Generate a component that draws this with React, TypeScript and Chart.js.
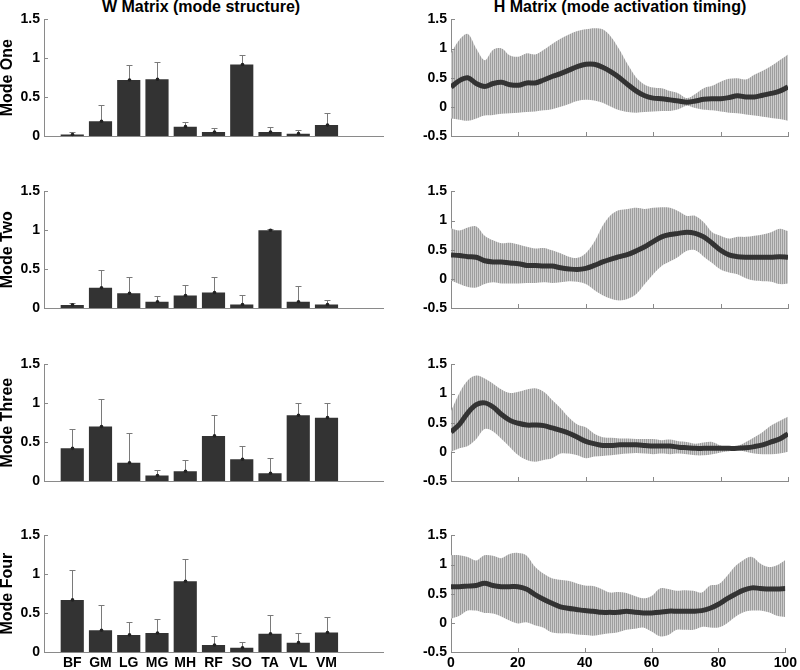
import React, { useEffect, useRef } from 'react';
import { Chart, registerables } from 'chart.js';
Chart.register(...registerables);

// ---------- data ----------
const muscles = ['BF', 'GM', 'LG', 'MG', 'MH', 'RF', 'SO', 'TA', 'VL', 'VM'];
const modeNames = ['Mode One', 'Mode Two', 'Mode Three', 'Mode Four'];

const wOne = [0.02, 0.19, 0.72, 0.73, 0.12, 0.05, 0.92, 0.05, 0.03, 0.14];
const wOneSd = [0.03, 0.21, 0.19, 0.22, 0.055, 0.05, 0.12, 0.07, 0.05, 0.16];
const wTwo = [0.04, 0.26, 0.19, 0.08, 0.16, 0.2, 0.045, 1.0, 0.08, 0.045];
const wTwoSd = [0.025, 0.23, 0.21, 0.08, 0.13, 0.2, 0.125, 0.01, 0.2, 0.055];
const wThree = [0.42, 0.7, 0.235, 0.07, 0.125, 0.58, 0.28, 0.1, 0.845, 0.815];
const wThreeSd = [0.25, 0.35, 0.385, 0.07, 0.145, 0.27, 0.17, 0.19, 0.155, 0.185];
const wFour = [0.67, 0.28, 0.22, 0.245, 0.91, 0.09, 0.055, 0.235, 0.12, 0.25];
const wFourSd = [0.39, 0.33, 0.17, 0.175, 0.28, 0.12, 0.075, 0.245, 0.12, 0.195];

const cyclePct = [0, 2.5, 5, 7.5, 10, 12.5, 15, 17.5, 20, 22.5, 25, 27.5, 30, 32.5, 35, 37.5, 40, 42.5, 45, 47.5, 50,
  52.5, 55, 57.5, 60, 62.5, 65, 67.5, 70, 72.5, 75, 77.5, 80, 82.5, 85, 87.5, 90, 92.5, 95, 97.5, 100];

const hOneMean = [0.34, 0.45, 0.5, 0.4, 0.35, 0.4, 0.42, 0.38, 0.37, 0.41, 0.41, 0.46, 0.52, 0.57, 0.63, 0.69, 0.73, 0.73, 0.68, 0.6, 0.5,
  0.38, 0.27, 0.19, 0.15, 0.14, 0.12, 0.1, 0.08, 0.1, 0.13, 0.14, 0.14, 0.16, 0.19, 0.17, 0.17, 0.2, 0.23, 0.27, 0.34];
const hOneUpper = [0.92, 1.15, 1.25, 1.0, 0.8, 0.98, 1.0, 0.88, 0.86, 0.92, 0.9, 0.98, 1.08, 1.17, 1.24, 1.3, 1.33, 1.35, 1.33, 1.2, 0.98,
  0.72, 0.5, 0.38, 0.33, 0.32, 0.27, 0.23, 0.15, 0.22, 0.32, 0.36, 0.43, 0.48, 0.49, 0.47, 0.55, 0.62, 0.7, 0.8, 0.9];
const hOneLower = [-0.2, -0.22, -0.24, -0.2, -0.15, -0.14, -0.12, -0.11, -0.1, -0.09, -0.08, -0.06, -0.04, 0, 0.05, 0.1, 0.12, 0.11, 0.07, 0, -0.06,
  -0.09, -0.1, -0.09, -0.08, -0.07, -0.07, -0.04, 0.02, -0.02, -0.05, -0.06, -0.08, -0.1, -0.11, -0.13, -0.15, -0.17, -0.19, -0.21, -0.24];

const hTwoMean = [0.41, 0.4, 0.38, 0.37, 0.31, 0.29, 0.29, 0.27, 0.26, 0.23, 0.23, 0.22, 0.22, 0.19, 0.17, 0.16, 0.18, 0.23, 0.29, 0.34, 0.38,
  0.42, 0.48, 0.55, 0.64, 0.72, 0.76, 0.78, 0.8, 0.78, 0.72, 0.61, 0.49, 0.41, 0.38, 0.37, 0.37, 0.37, 0.37, 0.38, 0.37];
const hTwoUpper = [0.87, 0.83, 0.88, 0.9, 0.74, 0.66, 0.61, 0.62, 0.59, 0.55, 0.52, 0.53, 0.49, 0.44, 0.38, 0.36, 0.44, 0.63, 0.91, 1.1, 1.18,
  1.2, 1.22, 1.2, 1.22, 1.23, 1.22, 1.16, 1.08, 1.08, 0.97, 0.8, 0.74, 0.69, 0.72, 0.72, 0.74, 0.76, 0.8, 0.86, 0.82];
const hTwoLower = [-0.03, -0.09, -0.14, -0.15, -0.09, -0.06, -0.08, -0.08, -0.08, -0.07, -0.07, -0.06, -0.07, -0.06, -0.04, -0.05, -0.09, -0.19, -0.28, -0.34, -0.37,
  -0.34, -0.26, -0.09, 0.08, 0.22, 0.3, 0.38, 0.48, 0.49, 0.38, 0.27, 0.16, 0.11, 0.08, 0.01, -0.03, -0.04, -0.05, -0.09, -0.08];

const hThreeMean = [0.34, 0.47, 0.67, 0.81, 0.84, 0.77, 0.64, 0.54, 0.49, 0.46, 0.46, 0.45, 0.41, 0.37, 0.32, 0.25, 0.18, 0.14, 0.11, 0.11, 0.12,
  0.12, 0.12, 0.11, 0.1, 0.1, 0.1, 0.08, 0.07, 0.06, 0.06, 0.06, 0.06, 0.06, 0.06, 0.07, 0.09, 0.12, 0.17, 0.22, 0.31];
const hThreeUpper = [0.7, 1.01, 1.23, 1.31, 1.26, 1.17, 1.07, 1.01, 1.03, 1.07, 1.09, 1.03, 0.89, 0.75, 0.59, 0.47, 0.42, 0.31, 0.25, 0.24, 0.23,
  0.23, 0.22, 0.22, 0.22, 0.2, 0.21, 0.18, 0.17, 0.14, 0.16, 0.17, 0.11, 0.08, 0.1, 0.17, 0.25, 0.34, 0.45, 0.53, 0.6];
const hThreeLower = [0, 0.06, 0.1, 0.22, 0.39, 0.35, 0.22, 0.08, -0.06, -0.14, -0.17, -0.14, -0.11, -0.03, -0.03, -0.06, -0.11, -0.08, -0.07, -0.06, -0.04,
  -0.03, -0.02, -0.03, -0.04, -0.03, -0.04, -0.03, -0.04, -0.06, -0.06, -0.04, -0.01, 0.01, 0.03, 0, -0.03, -0.04, -0.04, -0.03, 0];

const hFourMean = [0.62, 0.62, 0.63, 0.64, 0.68, 0.64, 0.62, 0.62, 0.62, 0.58, 0.49, 0.41, 0.34, 0.28, 0.25, 0.23, 0.21, 0.2, 0.18, 0.18, 0.18,
  0.2, 0.18, 0.17, 0.17, 0.18, 0.2, 0.2, 0.2, 0.2, 0.21, 0.25, 0.32, 0.41, 0.49, 0.56, 0.6, 0.59, 0.58, 0.58, 0.59];
const hFourUpper = [1.16, 1.16, 1.13, 1.07, 1.16, 1.15, 1.11, 1.18, 1.2, 1.16, 0.97, 0.85, 0.77, 0.74, 0.72, 0.68, 0.64, 0.63, 0.58, 0.52, 0.53,
  0.51, 0.46, 0.42, 0.46, 0.59, 0.58, 0.55, 0.56, 0.55, 0.52, 0.64, 0.66, 0.8, 0.97, 1.08, 1.13, 1.02, 0.96, 0.99, 1.08];
const hFourLower = [0.07, 0.12, 0.21, 0.21, 0.17, 0.16, 0.11, 0.04, -0.01, 0.01, -0.04, -0.08, -0.16, -0.18, -0.18, -0.2, -0.21, -0.22, -0.2, -0.18, -0.16,
  -0.12, -0.1, -0.08, -0.15, -0.23, -0.21, -0.12, -0.12, -0.12, -0.07, -0.08, -0.08, -0.01, 0.1, 0.18, 0.21, 0.21, 0.18, 0.12, 0.1];

const wValues = [wOne, wTwo, wThree, wFour];
const wSds = [wOneSd, wTwoSd, wThreeSd, wFourSd];
const hMeans = [hOneMean, hTwoMean, hThreeMean, hFourMean];
const hUppers = [hOneUpper, hTwoUpper, hThreeUpper, hFourUpper];
const hLowers = [hOneLower, hTwoLower, hThreeLower, hFourLower];

// ---------- style / layout ----------
const FONT = '"Liberation Sans", Arial, sans-serif';
const AXIS = '#8a8a8a';
const DARK = '#333333';
const ROW_TOPS = [17, 189, 362, 533];
const PLOT_H = 119;
const PAD_TOP = 10;
const X_AXIS_H = 18;

Chart.defaults.font.family = FONT;

const fmtTick = (v: any) => String(Number(v));

const errorBarPlugin = {
  id: 'errorBars',
  afterDatasetsDraw(chart: any, _args: any, opts: any) {
    const sd: number[] | undefined = opts && opts.sd;
    if (!sd) return;
    const { ctx } = chart;
    const meta = chart.getDatasetMeta(0);
    const ys = chart.scales.y;
    const data = chart.data.datasets[0].data as any[];
    ctx.save();
    meta.data.forEach((bar: any, i: number) => {
      const v = data[i].y;
      const x = Math.round(bar.x) + 0.5;
      const y0 = ys.getPixelForValue(v);
      const y1 = Math.round(ys.getPixelForValue(v + sd[i])) + 0.5;
      ctx.strokeStyle = '#7a7a7a';
      ctx.lineWidth = 1;
      ctx.beginPath();
      ctx.moveTo(x, y0);
      ctx.lineTo(x, y1);
      ctx.moveTo(x - 3, y1);
      ctx.lineTo(x + 3, y1);
      ctx.stroke();
      ctx.fillStyle = '#222';
      ctx.beginPath();
      ctx.arc(x, y0, 1.8, 0, Math.PI * 2);
      ctx.fill();
    });
    ctx.restore();
  },
};

const inwardTicksPlugin = {
  id: 'inwardTicks',
  afterDraw(chart: any, _args: any, opts: any) {
    const { ctx, chartArea } = chart;
    const xs = chart.scales.x;
    const ys = chart.scales.y;
    ctx.save();
    ctx.strokeStyle = AXIS;
    ctx.lineWidth = 1;
    ctx.beginPath();
    ys.ticks.forEach((t: any) => {
      const py = Math.round(ys.getPixelForValue(t.value)) + 0.5;
      ctx.moveTo(chartArea.left, py);
      ctx.lineTo(chartArea.left + 4, py);
    });
    if (opts && opts.xTicks) {
      xs.ticks.forEach((t: any) => {
        const px = Math.round(xs.getPixelForValue(t.value)) + 0.5;
        ctx.moveTo(px, chartArea.bottom);
        ctx.lineTo(px, chartArea.bottom - 4);
      });
    }
    ctx.stroke();
    ctx.restore();
  },
};

function makeStripePattern(): CanvasPattern | string {
  const c = document.createElement('canvas');
  c.width = 2;
  c.height = 1;
  const g = c.getContext('2d');
  if (!g) return '#bbbbbb';
  g.fillStyle = '#9e9e9e';
  g.fillRect(0, 0, 1, 1);
  g.fillStyle = '#cccccc';
  g.fillRect(1, 0, 1, 1);
  return g.createPattern(c, 'repeat') || '#bbbbbb';
}

type PanelProps = { kind: 'w' | 'h'; row: number };

function Panel({ kind, row }: PanelProps) {
  const ref = useRef<HTMLCanvasElement | null>(null);
  const isLeft = kind === 'w';
  const canvasLeft = isLeft ? 0 : 400;
  const width = 400;
  const yAxisW = isLeft ? 44 : 51;
  const padRight = isLeft ? 17 : 12;
  const height = PLOT_H + PAD_TOP + X_AXIS_H;
  const top = ROW_TOPS[row] - PAD_TOP;
  const bottomRow = row === 3;

  useEffect(() => {
    if (!ref.current) return;
    const tickFont = { size: 14, weight: 'bold' as const, family: FONT };
    const yTitle = {
      display: true,
      text: modeNames[row],
      color: '#000',
      font: { size: 16, weight: 'bold' as const, family: FONT, lineHeight: 1 },
      padding: 0,
    };
    let chart: Chart;
    if (isLeft) {
      const vals = wValues[row];
      chart = new Chart(ref.current, {
        type: 'bar',
        data: {
          datasets: [
            {
              data: muscles.map((_, i) => ({ x: i + 1, y: vals[i] })),
              backgroundColor: DARK,
              borderWidth: 0,
              barPercentage: 0.82,
              categoryPercentage: 1,
            },
          ],
        },
        options: {
          animation: false,
          responsive: false,
          devicePixelRatio: 1,
          layout: { padding: { top: PAD_TOP, right: padRight, left: 0, bottom: 0 } },
          plugins: {
            legend: { display: false },
            tooltip: { enabled: false },
            errorBars: { sd: wSds[row] },
          } as any,
          scales: {
            x: {
              type: 'linear',
              min: 0,
              max: 12,
              offset: false,
              grid: { display: false, drawTicks: false },
              border: { display: true, color: AXIS, width: 1 },
              ticks: {
                display: bottomRow,
                stepSize: 1,
                autoSkip: false,
                maxRotation: 0,
                padding: 3,
                color: '#000',
                font: tickFont,
                callback: (v: any) => muscles[Number(v) - 1] ?? '',
              },
              afterFit: (s: any) => {
                s.height = X_AXIS_H;
              },
            },
            y: {
              min: 0,
              max: 1.5,
              grid: { display: false, drawTicks: false },
              border: { display: true, color: AXIS, width: 1 },
              ticks: { stepSize: 0.5, padding: 4, color: '#000', font: tickFont, callback: fmtTick },
              title: yTitle,
              afterFit: (s: any) => {
                s.width = yAxisW;
              },
            },
          },
        } as any,
        plugins: [errorBarPlugin, inwardTicksPlugin],
      });
    } else {
      const pattern = makeStripePattern();
      const mean = hMeans[row];
      const up = hUppers[row];
      const lo = hLowers[row];
      chart = new Chart(ref.current, {
        type: 'line',
        data: {
          datasets: [
            {
              data: cyclePct.map((x, i) => ({ x, y: mean[i] })),
              borderColor: DARK,
              borderWidth: 5,
              pointRadius: 0,
              tension: 0.35,
              fill: false,
              order: 0,
            },
            {
              data: cyclePct.map((x, i) => ({ x, y: up[i] })),
              borderWidth: 0,
              borderColor: 'rgba(0,0,0,0)',
              backgroundColor: pattern as any,
              pointRadius: 0,
              tension: 0.35,
              fill: '+1',
              order: 1,
            },
            {
              data: cyclePct.map((x, i) => ({ x, y: lo[i] })),
              borderWidth: 0,
              borderColor: 'rgba(0,0,0,0)',
              pointRadius: 0,
              tension: 0.35,
              fill: false,
              order: 2,
            },
          ],
        },
        options: {
          animation: false,
          responsive: false,
          devicePixelRatio: 1,
          layout: { padding: { top: PAD_TOP, right: padRight, left: 0, bottom: 0 } },
          plugins: {
            legend: { display: false },
            tooltip: { enabled: false },
            filler: { drawTime: 'beforeDatasetsDraw' },
            inwardTicks: { xTicks: true },
          } as any,
          scales: {
            x: {
              type: 'linear',
              min: 0,
              max: 100,
              grid: { display: false, drawTicks: false },
              border: { display: true, color: AXIS, width: 1 },
              ticks: {
                display: bottomRow,
                stepSize: 20,
                maxRotation: 0,
                padding: 3,
                color: '#000',
                font: tickFont,
                callback: fmtTick,
              },
              afterFit: (s: any) => {
                s.height = X_AXIS_H;
              },
            },
            y: {
              min: -0.5,
              max: 1.5,
              grid: { display: false, drawTicks: false },
              border: { display: true, color: AXIS, width: 1 },
              ticks: { stepSize: 0.5, padding: 4, color: '#000', font: tickFont, callback: fmtTick },
              afterFit: (s: any) => {
                s.width = yAxisW;
              },
            },
          },
        } as any,
        plugins: [inwardTicksPlugin],
      });
    }
    return () => chart.destroy();
  }, [kind, row]);

  return (
    <canvas
      ref={ref}
      width={width}
      height={height}
      style={{ position: 'absolute', left: canvasLeft, top, width, height }}
    />
  );
}

export default function App() {
  const titleStyle: React.CSSProperties = {
    position: 'absolute',
    top: -2,
    fontFamily: FONT,
    fontWeight: 'bold',
    fontSize: 16,
    lineHeight: '18px',
    textAlign: 'center',
    color: '#000',
    whiteSpace: 'nowrap',
  };
  return (
    <div
      style={{
        position: 'absolute',
        left: 0,
        top: 0,
        width: 800,
        height: 670,
        overflow: 'hidden',
        background: '#fff',
      }}
    >
      <div style={{ ...titleStyle, left: 0, width: 402 }}>W Matrix (mode structure)</div>
      <div style={{ ...titleStyle, left: 420, width: 400 }}>H Matrix (mode activation timing)</div>
      {[0, 1, 2, 3].map((r) => (
        <React.Fragment key={r}>
          <Panel kind="w" row={r} />
          <Panel kind="h" row={r} />
        </React.Fragment>
      ))}
    </div>
  );
}
